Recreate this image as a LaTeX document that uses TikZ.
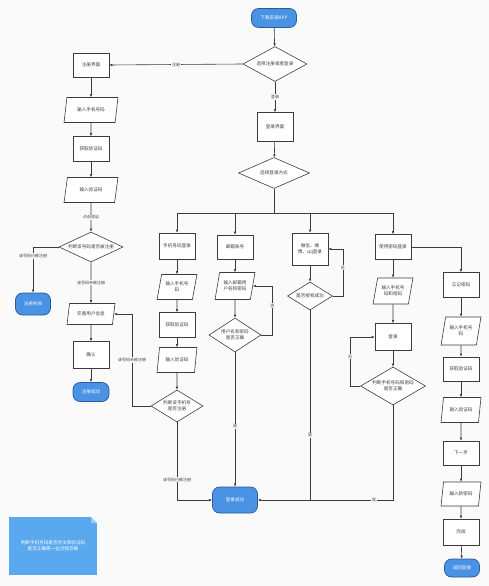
\documentclass[tikz,border=0pt]{standalone}
\usepackage{fontspec}
\newfontfamily\cjk{Noto Sans CJK SC}
\usetikzlibrary{shapes.geometric,arrows.meta,positioning,calc}
\definecolor{Ink}{HTML}{3C3C3C}
\definecolor{Sky}{HTML}{4A92E4}
\definecolor{SkyDark}{HTML}{2A5C98}
\definecolor{NoteBlue}{HTML}{5AA8EE}
\definecolor{Paper}{HTML}{FAFAFA}

\begin{document}
\begin{tikzpicture}[x=1pt,y=-1pt,
  every node/.style={font=\cjk\fontsize{4.6}{5.8}\selectfont,align=center,text=Ink},
  box/.style={draw=Ink,line width=0.6pt,fill=white,minimum width=36pt,minimum height=25pt,inner sep=1pt},
  io/.style={trapezium,trapezium left angle=72,trapezium right angle=108,trapezium stretches=true,
    draw=Ink,line width=0.6pt,fill=white,minimum width=40pt,minimum height=25pt,inner sep=0.5pt},
  decide/.style={diamond,draw=Ink,line width=0.6pt,fill=white,inner sep=0pt,minimum width=52pt,minimum height=32pt,
    label={center:#1}},
  term/.style={rectangle,rounded corners=7pt,draw=SkyDark,line width=0.7pt,fill=Sky,text=white,
    minimum width=45pt,minimum height=20pt,inner sep=1pt},
  lbl/.style={fill=Paper,inner sep=0.8pt,font=\cjk\fontsize{4}{5}\selectfont},
  arr/.style={draw=Ink,line width=0.6pt,-{Latex[length=3pt,width=2.6pt]}},
  wire/.style={draw=Ink,line width=0.6pt}]

  \fill[Paper] (0,0) rectangle (489,586);

  % top
  \node[term,minimum height=19pt] (start) at (274,18) {下载安装APP};
  \node[decide={选择注册或者登录},minimum width=64pt,minimum height=35pt] (choose) at (275,64) {};
  \node[box,minimum height=29pt] (login) at (275,127) {登录界面};
  \node[decide={选择登录方式},minimum width=71pt,minimum height=31pt] (way) at (274,173) {};

  % register
  \node[box,minimum height=24pt] (reg) at (91,65) {注册界面};
  \node[io,minimum width=54pt] (regPhone) at (91,110) {输入手机号码};
  \node[box] (regCode) at (91,149) {获取验证码};
  \node[io,minimum width=54pt] (regInput) at (91,190) {输入验证码};
  \node[decide={判断该号码是否被注册},minimum width=64pt,minimum height=30pt] (regCheck) at (91,247) {};
  \node[term,minimum width=35pt,minimum height=22pt] (regFail) at (33,304) {注册失败};
  \node[io,minimum width=48pt,minimum height=21pt] (regInfo) at (91,314) {完善用户信息};
  \node[box,minimum height=27pt] (regOk) at (91,355) {确认};
  \node[term,minimum width=36pt,minimum height=19pt] (regDone) at (91,392) {注册成功};

  % login ways
  \node[box,minimum height=26pt] (phoneLogin) at (177,246) {手机号码登录};
  \node[io] (phoneIn) at (177,287) {输入手机号\\码};
  \node[box] (phoneCode) at (177,325) {获取验证码};
  \node[io] (phoneInput) at (177,360) {输入验证码};
  \node[decide={判断该手机号\\是否注册}] (phoneCheck) at (177,406) {};

  \node[box,minimum height=24pt] (mail) at (235,247) {邮箱账号};
  \node[io,minimum height=27pt] (mailIn) at (235,286) {输入邮箱用\\户名和密码};
  \node[decide={用户名和密码\\是否正确},minimum height=34pt] (mailCheck) at (235,335) {};

  \node[box,minimum height=32pt] (social) at (310,249) {微信、微\\博、qq登录};
  \node[decide={是否授权成功},minimum width=45pt,minimum height=28pt] (socialCheck) at (310,296) {};

  \node[box] (pwd) at (393,247) {使用密码登录};
  \node[io,minimum height=26pt] (pwdIn) at (393,291) {输入手机号\\码和密码};
  \node[box,minimum height=27pt] (pwdBtn) at (393,337) {登录};
  \node[decide={判断手机号码和密码\\是否正确},minimum width=65pt,minimum height=38pt] (pwdCheck) at (393,386) {};

  \node[box] (forget) at (461,285) {忘记密码};
  \node[io,minimum height=28pt] (fgPhone) at (461,331) {输入手机号\\码};
  \node[box,minimum height=24pt] (fgCode) at (461,369) {获取验证码};
  \node[io] (fgInput) at (461,410) {输入验证码};
  \node[box,minimum height=24pt] (fgNext) at (461,453) {下一步};
  \node[io,minimum height=24pt] (fgNew) at (461,494) {输入新密码};
  \node[box,minimum height=26pt] (fgDone) at (461,532) {完成};
  \node[term,minimum width=35pt,minimum height=18pt] (fgEnd) at (462,568) {返回登录};

  \node[term,minimum height=26pt] (success) at (235,500) {登录成功};

  % note
  \node[fill=NoteBlue,text=white,minimum width=88pt,minimum height=58pt,inner sep=2pt] (note) at (53,546)
    {判断手机号码是否合法和验证码\\是否正确等一些流程忽略};
  \fill[Paper] (91,517) -- (97,517) -- (97,523) -- cycle;
  \fill[NoteBlue!60!white] (91,517) -- (97,523) -- (91,523) -- cycle;

  % main flow
  \draw[arr] (start) -- (choose);
  \draw[arr] (choose.west) -- node[lbl] {注册} (reg.east);
  \draw[arr] (choose.south) -- node[lbl] {登录} (login.north);
  \draw[arr] (login) -- (way);
  \coordinate (bus) at (274,213);
  \draw[wire] (way.south) -- (bus);
  \draw[arr] (bus) -| (phoneLogin.north);
  \draw[arr] (bus) -| (mail.north);
  \draw[arr] (bus) -| (social.north);
  \draw[arr] (bus) -| (pwd.north);

  % register flow
  \draw[arr] (reg) -- (regPhone);
  \draw[arr] (regPhone) -- (regCode);
  \draw[arr] (regCode) -- (regInput);
  \draw[arr] (regInput) -- node[lbl] {点击验证} (regCheck);
  \draw[arr] (regCheck.west) -| node[lbl,pos=0.6] {该号码已被注册} (regFail.north);
  \draw[arr] (regCheck.south) -- node[lbl] {该号码未被注册} (regInfo.north);
  \draw[arr] (regInfo) -- (regOk);
  \draw[arr] (regOk) -- (regDone);

  % phone login
  \draw[arr] (phoneLogin) -- (phoneIn);
  \draw[arr] (phoneIn) -- (phoneCode);
  \draw[arr] (phoneCode) -- (phoneInput);
  \draw[arr] (phoneInput) -- (phoneCheck);
  \draw[arr] (phoneCheck.west) -| node[lbl,pos=0.75] {该号码未被注册} ($(regInfo.east)+(18,0)$) -- (regInfo.east);
  \draw[arr] (phoneCheck.south) |- node[lbl,pos=0.37] {该号码已被注册} (success.west);

  % mail login
  \draw[arr] (mail) -- (mailIn);
  \draw[arr] (mailIn) -- (mailCheck);
  \draw[arr] (mailCheck.east) -- ++(11,0) |- node[lbl,pos=0.3] {否} (mailIn.east);
  \draw[arr] (mailCheck.south) -- node[lbl,pos=0.55] {是} (success.north);

  % social login
  \draw[arr] (social) -- (socialCheck);
  \draw[arr] (socialCheck.east) -- ++(10,0) |- node[lbl,pos=0.3] {否} (social.east);
  \draw[wire] (socialCheck.south) -- node[lbl,pos=0.66] {是} (socialCheck.south |- success.east);

  % password login
  \draw[arr] (pwd) -- (pwdIn);
  \draw[arr] (pwdIn) -- (pwdBtn);
  \draw[arr] (pwdBtn) -- (pwdCheck);
  \draw[arr] (pwdCheck.west) -- ++(-10,0) |- node[lbl,pos=0.3] {否} (pwdBtn.west);
  \draw[arr] (pwdCheck.south) |- node[lbl,pos=0.57] {是} (success.east);

  % forget password
  \draw[arr] (pwd.east) -| (forget.north);
  \draw[arr] (forget) -- (fgPhone);
  \draw[arr] (fgPhone) -- (fgCode);
  \draw[arr] (fgCode) -- (fgInput);
  \draw[arr] (fgInput) -- (fgNext);
  \draw[arr] (fgNext) -- (fgNew);
  \draw[arr] (fgNew) -- (fgDone);
  \draw[arr] (fgDone) -- (fgEnd);
\end{tikzpicture}
\end{document}
